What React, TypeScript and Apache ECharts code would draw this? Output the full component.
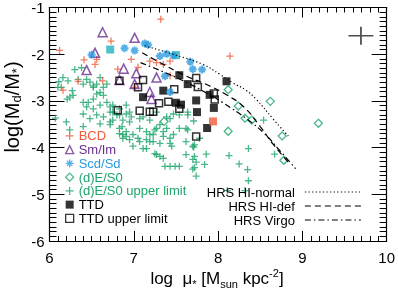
import React, { useEffect, useRef } from 'react';
import * as echarts from 'echarts';

// ---- data (log mu*, log Md/M*) ----
const bcd = [
  [6.12, -1.92], [6.16, -2.77], [6.34, -2.58], [6.41, -2.12], [6.54, -2.22], [6.56, -2.11],
  [6.63, -2.57], [6.73, -1.72], [6.81, -2.32], [6.97, -2.11], [7.01, -2.71], [7.05, -2.28],
  [7.19, -2.15], [7.27, -2.18], [7.32, -1.25], [7.35, -2.22], [7.43, -2.15], [7.43, -2.46],
  [8.14, -2.04],
];
const smIm = [
  [6.63, -1.53], [7.01, -1.65], [6.54, -1.97], [6.44, -2.34], [6.88, -2.31], [6.83, -2.55],
  [7.03, -2.41], [7.01, -2.64], [7.27, -2.50], [7.19, -2.81], [7.21, -2.96],
];
const scdSd = [
  [6.50, -2.01], [6.89, -1.87], [7.01, -1.92], [7.13, -1.77], [7.17, -1.80], [7.31, -2.04],
  [7.39, -1.99], [7.47, -2.03], [7.37, -2.47], [7.43, -2.81], [7.67, -2.16], [7.70, -2.32],
  [7.81, -2.33],
];
const scdTtd = [[6.72, -1.90], [7.50, -2.02]];
const bcdTtd = [[7.94, -3.44]];
const es0 = [
  [7.36, -3.44], [8.12, -2.76], [8.24, -3.11], [8.32, -3.37], [8.40, -3.41], [8.12, -3.65],
  [8.62, -3.01], [8.76, -3.75], [8.78, -4.27], [9.19, -3.48],
];
const es0Upper = [
  [6.11, -2.59], [6.16, -2.50], [6.22, -2.57], [6.10, -2.71], [6.14, -2.71], [6.27, -2.78],
  [6.24, -2.92], [6.21, -2.96], [6.30, -2.33], [6.34, -2.54], [6.40, -2.64], [6.44, -2.54],
  [6.48, -2.60], [6.52, -2.71], [6.56, -2.64], [6.60, -2.50], [6.64, -2.71], [6.68, -2.64],
  [6.56, -2.85], [6.64, -2.88], [6.46, -3.03], [6.44, -3.13], [6.52, -3.17], [6.60, -3.09],
  [6.68, -3.03], [6.75, -3.09], [6.72, -3.24], [6.80, -3.30], [6.83, -3.17], [6.91, -3.09],
  [6.95, -3.24], [6.97, -3.34], [6.87, -3.41], [6.75, -3.41], [6.64, -3.34], [6.56, -3.30],
  [6.40, -3.28], [6.07, -3.37], [6.20, -3.45], [6.24, -3.62], [6.40, -3.55], [6.72, -3.51],
  [6.83, -3.59], [6.91, -3.66], [6.87, -3.80], [6.99, -3.72], [7.07, -3.59], [7.15, -3.66],
  [7.23, -3.72], [7.07, -3.87], [7.11, -4.02], [7.19, -3.87], [7.27, -3.59], [7.39, -3.59],
  [7.43, -3.80], [7.47, -3.72], [7.54, -3.30], [7.47, -3.28], [7.64, -3.62], [7.72, -3.94],
  [7.64, -3.24], [7.27, -3.24], [7.39, -3.34], [7.11, -3.34], [6.38, -2.29],
  [6.28, -2.88], [6.40, -3.03], [6.52, -2.96], [6.72, -3.13], [6.75, -3.24], [6.83, -3.30],
  [6.91, -3.28], [6.95, -3.45], [6.72, -3.45], [6.48, -3.38], [7.07, -3.38], [7.19, -3.41],
  [7.25, -3.62], [7.31, -3.51], [6.87, -3.72], [6.95, -3.83], [7.05, -3.80], [6.99, -3.97],
  [7.15, -3.83], [7.23, -3.87], [7.31, -3.91], [7.35, -3.76], [7.43, -3.91], [7.15, -4.02],
  [7.25, -4.13], [7.35, -4.23], [7.37, -4.40], [7.43, -4.40], [7.49, -4.40], [7.54, -4.40],
  [7.62, -4.15], [7.70, -4.25], [7.72, -4.43], [7.43, -3.38], [7.64, -3.30], [7.54, -3.59],
  [6.52, -2.68], [6.60, -2.82], [7.62, -3.87], [6.60, -3.49], [6.86, -3.55], [6.83, -3.70],
  [6.91, -3.76], [7.19, -3.72], [7.35, -3.66], [7.45, -3.97], [7.62, -3.59], [7.31, -4.19],
  [7.70, -3.97], [7.70, -4.46], [7.74, -4.61], [7.27, -4.15], [7.72, -4.19], [7.86, -4.14],
  [7.74, -4.31], [7.84, -4.36], [8.13, -4.17], [8.25, -4.35], [8.36, -4.02], [8.35, -4.47],
  [8.36, -4.71], [8.67, -4.14], [8.11, -4.92], [8.32, -4.92], [7.71, -3.43], [8.54, -3.41],
  [7.78, -3.80], [7.71, -3.99],
];
const ttd = [
  [7.11, -2.92], [7.35, -2.78], [7.50, -3.04], [7.56, -3.08], [7.54, -2.45], [7.64, -2.64],
  [7.74, -2.99], [7.75, -3.24], [7.87, -3.58], [7.90, -2.87], [7.95, -3.15], [8.10, -2.58],
];
const ttdUpper = [
  [6.83, -2.57], [6.81, -3.20], [7.05, -2.71], [7.11, -2.55], [7.07, -3.21], [7.19, -3.23],
  [7.23, -3.23], [7.30, -3.05], [7.41, -3.02], [7.48, -2.75], [7.54, -3.17], [7.74, -2.51],
  [7.76, -2.70], [7.95, -2.84], [7.96, -2.97], [7.74, -3.76],
];
const hrsNormal = [
  [7.13, -1.82], [7.50, -2.02], [7.82, -2.22], [8.02, -2.43], [8.18, -2.62], [8.33, -2.77],
  [8.45, -2.96], [8.65, -3.38], [8.85, -3.79],
];
const hrsDef = [
  [7.10, -1.97], [7.30, -2.17], [7.60, -2.45], [7.90, -2.68], [8.10, -2.87], [8.30, -3.12],
  [8.50, -3.55], [8.65, -3.92], [8.85, -4.35],
];
const hrsVirgo = [
  [7.08, -2.18], [7.30, -2.34], [7.60, -2.58], [7.85, -2.82], [8.05, -3.03], [8.35, -3.40],
  [8.55, -3.70], [8.73, -4.06], [8.92, -4.45],
];
const errCross = [[9.695, -1.605]];
const xTicks = { min: 6, max: 10, interval: 1 };
const yTicks = { min: -6, max: -1, interval: 1 };

const FONT = '"Liberation Sans", Arial, Helvetica, sans-serif';
const PLUS = 'path://M5,0L5,10M0,5L10,5';
const ASTER = 'path://M5,0L5,10M0,5L10,5M1.6,1.6L8.4,8.4M1.6,8.4L8.4,1.6';
const RED = '#ef5a3a';
const PURPLE = '#6a2d8f';
const BLUE = '#2a9be0';
const GREEN = '#1ea56c';
const CYAN = '#22b2c0';
const NONE = 'rgba(0,0,0,0)';

export default function App() {
  const ref = useRef<HTMLDivElement>(null);
  useEffect(() => {
    const chart = echarts.init(ref.current!, null, { renderer: 'svg' });
    const axisLine = { show: true, onZero: false, lineStyle: { color: '#000', width: 1.2 } };
    const mkX = (pos: string, labels: boolean) => ({
      type: 'value', position: pos, ...xTicks,
      axisLine,
      axisTick: { show: true, inside: true, length: 10, lineStyle: { color: '#000', width: 1 } },
      minorTick: { show: true, splitNumber: 10, length: 5, lineStyle: { color: '#000', width: 1 } },
      splitLine: { show: false },
      axisLabel: { show: labels, margin: 9, fontSize: 15, color: '#000', fontFamily: FONT },
    });
    const mkY = (pos: string, labels: boolean) => ({
      type: 'value', position: pos, ...yTicks,
      axisLine,
      axisTick: { show: true, inside: true, length: 15, lineStyle: { color: '#000', width: 1 } },
      minorTick: { show: true, splitNumber: 10, length: 7, lineStyle: { color: '#000', width: 1 } },
      splitLine: { show: false },
      axisLabel: { show: labels, margin: 5, fontSize: 15, color: '#000', fontFamily: FONT },
    });
    const stroke = (c: string, w = 1.3) => ({ color: NONE, borderColor: c, borderWidth: w });
    chart.setOption({
      animation: false,
      grid: { left: 49.5, right: 10.5, top: 4, bottom: 50 },
      xAxis: [mkX('bottom', true), mkX('top', false)],
      yAxis: [mkY('left', true), mkY('right', false)],
      legend: [
        {
          orient: 'vertical', left: 60, top: 124, padding: 5, itemGap: 0,
          itemWidth: 8, itemHeight: 8, selectedMode: false,
          itemStyle: { borderWidth: 1.3 },
          textStyle: { fontSize: 13, fontFamily: FONT, lineHeight: 13.75 },
          data: [
            { name: 'BCD', textStyle: { color: RED } },
            { name: 'Sm/Im', textStyle: { color: PURPLE } },
            { name: 'Scd/Sd', textStyle: { color: BLUE } },
            { name: '(d)E/S0', textStyle: { color: GREEN } },
            { name: '(d)E/S0 upper limit', textStyle: { color: GREEN } },
            { name: 'TTD', textStyle: { color: '#000' } },
            { name: 'TTD upper limit', textStyle: { color: '#000' } },
          ],
        },
        {
          orient: 'vertical', right: 31.5, top: 180, padding: 5, itemGap: 0, align: 'right',
          itemWidth: 56, itemHeight: 8, selectedMode: false,
          lineStyle: { width: 1.2 },
          itemStyle: { color: NONE, borderColor: NONE, borderWidth: 0, opacity: 0 },
          textStyle: { fontSize: 13, fontFamily: FONT, lineHeight: 14, color: '#000', padding: [0, 5, 0, 0] },
          data: ['HRS HI-normal', 'HRS HI-def', 'HRS Virgo'],
        },
      ],
      graphic: [
        {
          type: 'text', x: 217, y: 278,
          style: {
            text: '{a|log  μ}{s|*}{a| [M}{s|sun}{a| kpc}{p|-2}{a|]}',
            align: 'center', verticalAlign: 'middle', fill: '#000',
            rich: {
              a: { fontSize: 17, fontFamily: FONT, lineHeight: 22, fill: '#000' },
              s: { fontSize: 11, fontFamily: FONT, lineHeight: 11, verticalAlign: 'bottom', fill: '#000' },
              p: { fontSize: 11, fontFamily: FONT, lineHeight: 11, verticalAlign: 'top', fill: '#000' },
            },
          },
        },
        {
          type: 'text', x: 12, y: 107, rotation: Math.PI / 2,
          style: {
            text: '{a|log(M}{s|d}{a|/M}{s|*}{a|)}',
            align: 'center', verticalAlign: 'middle', fill: '#000',
            rich: {
              a: { fontSize: 20, fontFamily: FONT, lineHeight: 22, fill: '#000' },
              s: { fontSize: 13, fontFamily: FONT, lineHeight: 13, verticalAlign: 'bottom', fill: '#000' },
            },
          },
        },
      ],
      series: [
        { type: 'scatter', name: '(d)E/S0 upper limit', data: es0Upper, symbol: PLUS, symbolSize: 7, itemStyle: stroke(GREEN) },
        { type: 'scatter', name: '(d)E/S0', data: es0, symbol: 'diamond', symbolSize: 8, itemStyle: stroke(GREEN) },
        { type: 'line', name: 'HRS HI-normal', data: hrsNormal, smooth: true, symbol: 'none', lineStyle: { color: '#000', width: 1.2, type: [1.2, 2.4] }, itemStyle: { color: '#000' } },
        { type: 'line', name: 'HRS HI-def', data: hrsDef, smooth: true, symbol: 'none', lineStyle: { color: '#000', width: 1.2, type: [6, 4] }, itemStyle: { color: '#000' } },
        { type: 'line', name: 'HRS Virgo', data: hrsVirgo, smooth: true, symbol: 'none', lineStyle: { color: '#000', width: 1.2, type: [6, 3, 1.5, 3] }, itemStyle: { color: '#000' } },
        { type: 'scatter', name: 'BCD', data: bcd, symbol: PLUS, symbolSize: 7, itemStyle: stroke(RED) },
        { type: 'scatter', name: 'Sm/Im', data: smIm, symbol: 'triangle', symbolSize: 9, itemStyle: stroke(PURPLE, 1.5) },
        { type: 'scatter', name: 'TTD upper limit', data: ttdUpper, symbol: 'rect', symbolSize: 7, itemStyle: stroke('#000', 1.5) },
        { type: 'scatter', name: 'TTD', data: ttd, symbol: 'rect', symbolSize: 8, itemStyle: { color: '#000' } },
        { type: 'scatter', name: 'BCD TTD', data: bcdTtd, symbol: 'rect', symbolSize: 8, itemStyle: { color: RED } },
        { type: 'scatter', name: 'Scd TTD', data: scdTtd, symbol: 'rect', symbolSize: 8, itemStyle: { color: CYAN } },
        { type: 'scatter', name: 'Scd/Sd', data: scdSd, symbol: ASTER, symbolSize: 8, itemStyle: stroke(BLUE, 2) },
        { type: 'scatter', name: 'error', data: errCross, symbol: PLUS, symbolSize: [25, 18], itemStyle: stroke('#222', 1.5) },
      ],
    });
    return () => chart.dispose();
  }, []);
  return <div ref={ref} style={{ position: 'fixed', left: 0, top: 0, width: 398, height: 291 }} />;
}
